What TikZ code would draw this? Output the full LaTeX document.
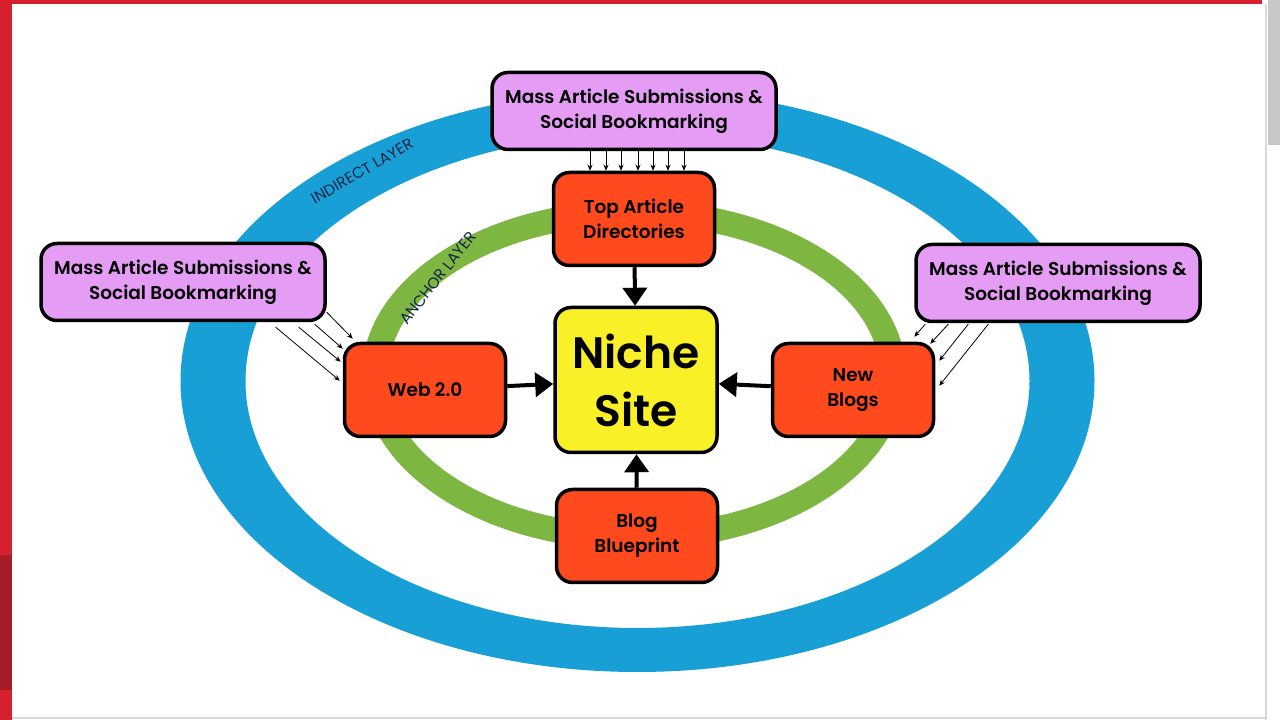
\documentclass[tikz,border=0pt]{standalone}
\usepackage{fontspec}
\setmainfont{Poppins}[BoldFont={Poppins SemiBold}]
\usetikzlibrary{arrows.meta}

\definecolor{ringblue}{RGB}{24,160,214}
\definecolor{ringgreen}{RGB}{126,182,66}
\definecolor{boxpink}{RGB}{228,156,245}
\definecolor{boxorange}{RGB}{255,74,30}
\definecolor{boxyellow}{RGB}{250,240,40}
\definecolor{framered}{RGB}{214,32,46}
\definecolor{framedark}{RGB}{168,28,40}
\definecolor{labelnavy}{RGB}{22,38,70}

\tikzset{%
  % Specifications for style of nodes:
         pinkbox/.style = {rectangle, rounded corners=16pt, draw=black, line width=3.5pt, fill=boxpink, minimum width=284pt, minimum height=77pt, font=\bfseries\fontsize{18.5}{25}\selectfont, align=center},
       orangebox/.style = {rectangle, rounded corners=16pt, draw=black, line width=3.5pt, fill=boxorange, minimum width=161pt, minimum height=93pt, font=\bfseries\fontsize{18.5}{25}\selectfont, align=center},
        nichebox/.style = {rectangle, rounded corners=16pt, draw=black, line width=3.5pt, fill=boxyellow, minimum width=162pt, minimum height=145pt, font=\bfseries\fontsize{44}{58}\selectfont, align=center},
      layerlabel/.style = {font=\fontsize{15.5}{17}\selectfont, text=labelnavy},
       bigarrow/.style = {line width=4pt, -{Triangle[length=18pt,width=24pt]}},
      thinarrow/.style = {line width=0.8pt, -{Stealth[length=6pt,width=5pt]}},
}

\begin{document}
\begin{tikzpicture}[x=1pt, y=1pt]
    \useasboundingbox (0,0) rectangle (1280,720);
    % Frame
    \fill[white] (0,0) rectangle (1280,720);
    \fill[framered] (0,0) rectangle (12,720);
    \fill[framedark] (0,30) rectangle (12,165);
    \fill[framered] (0,716) rectangle (1262,720);
    \fill[black!22!white] (1268,575) rectangle (1280,720);
    \draw[black!15, line width=1.5pt] (1266,0) -- (1266,716);
    \draw[black!15, line width=1.5pt] (12,2) -- (1266,2);

    % Draw rings
    \fill[ringblue, even odd rule] (637.5,339) ellipse [x radius=457, y radius=291]
                                    (637.5,339) ellipse [x radius=392, y radius=247];
    \fill[ringgreen, even odd rule] (634,345) ellipse [x radius=272, y radius=175]
                                     (634,345) ellipse [x radius=246, y radius=150];
    \node (indirect) [layerlabel, rotate=30] at (362,549) {INDIRECT LAYER};
    \node (anchor)   [layerlabel, rotate=52] at (438,442) {ANCHOR LAYER};

    % Draw nodes
    \node (mastop)    [pinkbox]   at (634,609)  {Mass Article Submissions \&\\Social Bookmarking};
    \node (masleft)   [pinkbox]   at (183,438)  {Mass Article Submissions \&\\Social Bookmarking};
    \node (masright)  [pinkbox]   at (1058,437) {Mass Article Submissions \&\\Social Bookmarking};
    \node (topart)    [orangebox] at (634,501)  {Top Article\\Directories};
    \node (web)       [orangebox] at (425,330)  {Web 2.0};
    \node (newblogs)  [orangebox] at (853,330)  {New\\Blogs};
    \node (blueprint) [orangebox] at (637,184)  {Blog\\Blueprint};
    \node (niche)     [nichebox]  at (636,340)  {Niche\\Site};

    % Draw arrows
    \draw[bigarrow] (topart)    -- (niche);
    \draw[bigarrow] (web)       -- (niche);
    \draw[bigarrow] (newblogs)  -- (niche);
    \draw[bigarrow] (blueprint) -- (niche);

    \foreach \dx in {-44,-28,-13,4,19,34,50}
        \draw[thinarrow] ([xshift=\dx pt]mastop.south) -- ([xshift=\dx pt]topart.north);

    \foreach \sx/\sy/\ex/\ey in {-51/-5/-3/-39, -28/-5/-2/-20, -12/-2/0/-7, 0/10/10/3}
        \draw[thinarrow] ([shift={(\sx,\sy)}]masleft.south east) -- ([shift={(\ex,\ey)}]web.north west);

    \foreach \sx/\sy/\ex/\ey in {11/-1/-21/5, 34/-1/-5/-2, 54/-1/4/-19, 74/-1/4/-44}
        \draw[thinarrow] ([shift={(\sx,\sy)}]masright.south west) -- ([shift={(\ex,\ey)}]newblogs.north east);

\end{tikzpicture}
\end{document}
